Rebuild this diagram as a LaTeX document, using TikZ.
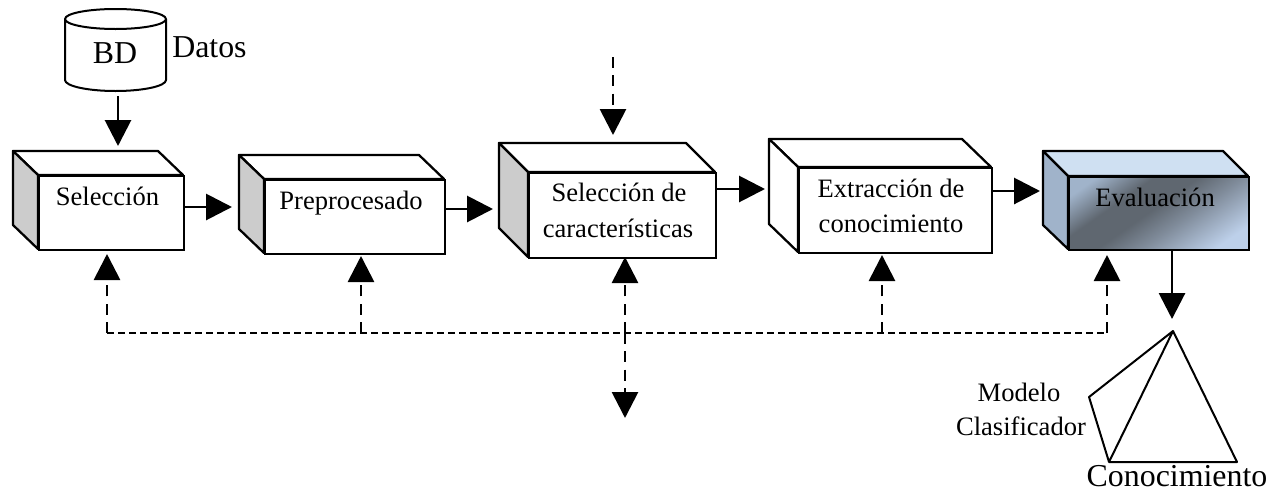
\documentclass[tikz,border=0pt]{standalone}
\usepackage{fontspec}
\setmainfont{Liberation Serif}
\usetikzlibrary{arrows.meta}
\definecolor{SideGray}{HTML}{CCCCCC}
\definecolor{EvalTop}{HTML}{CFE0F2}
\definecolor{EvalSide}{HTML}{A0B3CA}
\definecolor{EvalLight}{HTML}{BDD0EA}
\definecolor{EvalDark}{HTML}{5F6770}
\pgfdeclareverticalshading{evalshade}{100bp}{
  color(0bp)=(EvalLight); color(24bp)=(EvalLight); color(42bp)=(EvalDark!65!EvalLight);
  color(53bp)=(EvalDark); color(64bp)=(EvalDark); color(78bp)=(EvalSide); color(100bp)=(EvalSide)}
\tikzset{
  front/.style={draw,line width=1.7bp,fill=white,anchor=north west,inner sep=0pt},
  label small/.style={font=\fontsize{20}{20}\selectfont,anchor=base,inner sep=0pt},
  label big/.style={font=\fontsize{24}{24}\selectfont,anchor=base,inner sep=0pt},
  flow/.style={line width=2.2bp,-{Triangle[length=19.5bp,width=19.5bp]}},
  loopv/.style={line width=2.1bp,dash pattern=on 8.25bp off 5.5bp,-{Triangle[length=19.5bp,width=19.5bp]}},
  looph/.style={line width=1.7bp,dash pattern=on 5.25bp off 3bp},
}
% name, back corner x y, front corner x y, front width height, side colour
\newcommand{\stagebox}[8]{
  \draw[line width=1.7bp,fill=white,line join=round] (#2,#3) -- (#2+#6,#3) -- (#4+#6,#5) -- (#4,#5) -- cycle;
  \draw[line width=1.7bp,fill=#8,line join=round] (#2,#3) -- (#4,#5) -- (#4,#5+#7) -- (#2,#3+#7) -- cycle;
  \node[front,minimum width=#6*0.75bp,minimum height=#7*0.75bp] (#1) at (#4,#5) {};
}
\begin{document}
\begin{tikzpicture}[x=0.75bp,y=-0.75bp]
  \useasboundingbox (0,0) rectangle (1278,491);
  % data base
  \draw[line width=1.5bp,line join=round] (65,19) arc[start angle=180,end angle=0,x radius=50.5,y radius=10]
    arc[start angle=0,end angle=-180,x radius=50.5,y radius=10]
    -- (65,80) arc[start angle=180,end angle=0,x radius=50.5,y radius=11] -- (166,19);
  \node[label big] (bd) at (115,63) {BD};
  \node[label big,anchor=base west] (datos) at (172,57) {Datos};
  % stages
  \stagebox{seleccion}{13}{151}{38}{175}{145}{74}{SideGray}
  \stagebox{preproc}{239}{155}{264}{179}{180}{74}{SideGray}
  \stagebox{caract}{499}{143}{528}{172}{187}{85}{SideGray}
  \stagebox{extrac}{769}{139}{798}{167}{193}{85}{white}
  \draw[line width=1.7bp,fill=EvalTop,line join=round] (1043,151) -- (1223,151) -- (1248,176) -- (1068,176) -- cycle;
  \draw[line width=1.7bp,fill=EvalSide,line join=round] (1043,151) -- (1068,176) -- (1068,249) -- (1043,225) -- cycle;
  \node[front,minimum width=135bp,minimum height=54.75bp,shading=evalshade,shading angle=35] (eval) at (1068,176) {};
  \node[label small] (t1) at (107.5,205) {Selección};
  \node[label small] (t2) at (351,209) {Preprocesado};
  \node[label small] (t3) at (619,201) {Selección de};
  \node[label small] (t4) at (618,237) {características};
  \node[label small] (t5) at (891,197) {Extracción de};
  \node[label small] (t6) at (891,232) {conocimiento};
  \node[label small] (t7) at (1155,206) {Evaluación};
  % knowledge
  \coordinate (apex) at (1173,331);
  \coordinate (modelo) at (1089,397);
  \coordinate (baseL) at (1109,462);
  \coordinate (baseR) at (1237,462);
  \draw[line width=1.5bp,line join=round] (apex) -- (modelo) -- (baseL) -- (apex) -- (baseR) -- (baseL);
  \node[label small] (t8) at (1019,401) {Modelo};
  \node[label small] (t9) at (1021,435) {Clasificador};
  \node[label big] (t10) at (1177,486) {Conocimiento};
  % solid arrows
  \coordinate (in1) at (118,146);
  \coordinate (in2) at (232,207);
  \coordinate (in3) at (493,209);
  \coordinate (in4) at (765,189);
  \coordinate (in5) at (1040,191);
  \coordinate (in6) at (1172,319);
  \coordinate (bdout) at (118,96);
  \draw[flow] (bdout) -- (in1);
  \draw[flow] (seleccion.east |- in2) -- (in2);
  \draw[flow] (preproc.east |- in3) -- (in3);
  \draw[flow] (caract.east |- in4) -- (in4);
  \draw[flow] (extrac.east |- in5) -- (in5);
  \draw[flow] (eval.south -| in6) -- (in6);
  % dashed arrows
  \coordinate (topin) at (613,57);
  \coordinate (topout) at (613,135);
  \coordinate (down) at (625,418);
  \coordinate (busL) at (107,333);
  \coordinate (busR) at (1107,333);
  \coordinate (bus3) at (625,333);
  \coordinate (bus2) at (361,333);
  \coordinate (bus4) at (882,333);
  \draw[loopv] (topin) -- (topout);
  \draw[looph] (busL) -- (busR);
  \draw[loopv] (busL) -- (107,254);
  \draw[loopv] (bus2) -- (361,256);
  \draw[loopv] (bus3) -- (625,257);
  \draw[loopv] (bus4) -- (882,255);
  \draw[loopv] (busR) -- (1107,255);
  \draw[loopv] (bus3) -- (down);
\end{tikzpicture}
\end{document}
